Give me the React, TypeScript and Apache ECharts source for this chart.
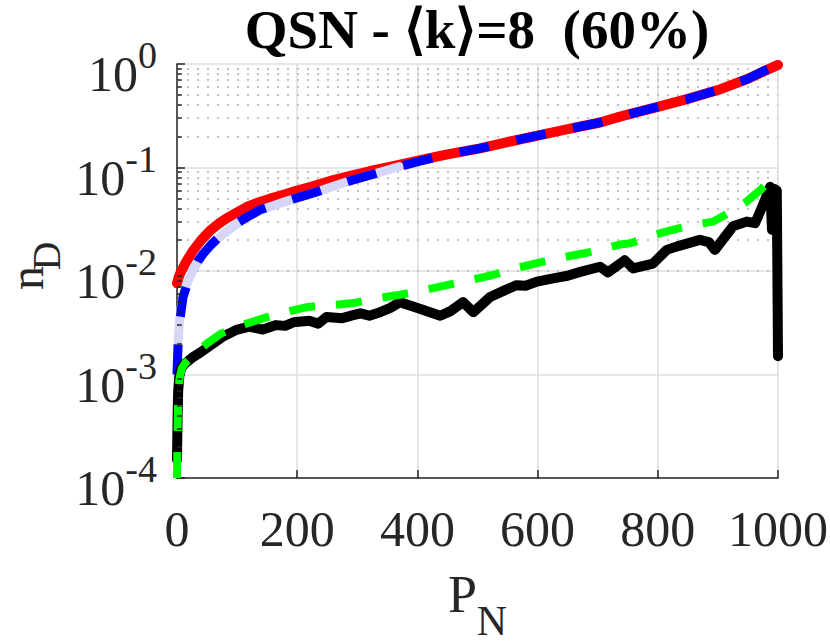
import React, { useEffect, useRef } from "react";
import * as echarts from "echarts";

const FONT = "'Liberation Serif', 'Times New Roman', Times, serif";
const TITLE = "QSN - \u27E8k\u27E9=8  (60%)";
const Y_NAME = ["n", "D"];

const xTicks = [0, 200, 400, 600, 800, 1000];
const yDecades = [-4, -3, -2, -1, 0];
const minorMultipliers = [2, 3, 4, 5, 6, 7, 8, 9];

const redData: [number, number][] = [
  [0, 0.0076], [3, 0.0088], [6, 0.0097], [10, 0.0107], [15, 0.0122], [20, 0.0136],
  [27, 0.0158], [40, 0.0198], [55, 0.0245], [70, 0.0288], [83, 0.0325], [100, 0.0368],
  [116, 0.0415], [135, 0.0458], [155, 0.05], [180, 0.055], [200, 0.0598], [230, 0.0668],
  [260, 0.0755], [290, 0.0835], [320, 0.092], [350, 0.1], [388, 0.112], [420, 0.123],
  [450, 0.134], [504, 0.153], [550, 0.176], [604, 0.206], [650, 0.235], [704, 0.272],
  [737, 0.31], [800, 0.386], [850, 0.46], [900, 0.56], [950, 0.72], [1000, 0.98],
];

const blueData: [number, number][] = [
  [0, 0.001], [1, 0.0015], [2, 0.002], [4, 0.003], [7, 0.0042], [10, 0.0056],
  [16, 0.0072], [25, 0.0095], [35, 0.0125], [44, 0.0148], [55, 0.0175], [69, 0.021],
  [85, 0.025], [100, 0.029], [120, 0.034], [138, 0.039], [160, 0.043], [180, 0.047],
  [205, 0.052], [232, 0.058], [260, 0.066], [290, 0.075], [332, 0.088], [370, 0.102],
  [404, 0.115], [450, 0.134], [504, 0.153], [550, 0.176], [604, 0.206], [650, 0.235],
  [704, 0.272], [737, 0.31], [800, 0.386], [850, 0.46], [900, 0.56], [950, 0.72], [1000, 1.0],
];

const lavenderData: [number, number][] = [
  [0, 0.001], [1, 0.0016], [2, 0.0022], [4, 0.0032], [7, 0.0045], [10, 0.0058],
  [16, 0.0074], [25, 0.0097], [35, 0.0123], [44, 0.0146], [55, 0.0172], [69, 0.0207],
  [85, 0.0247], [100, 0.0287], [120, 0.0337], [138, 0.0387], [160, 0.0428], [180, 0.0468],
  [205, 0.0518], [232, 0.0578], [260, 0.0658], [290, 0.0748], [332, 0.088], [370, 0.102],
];

const blackData: [number, number][] = [
  [0, 0.00015], [1, 0.0004], [2, 0.0007], [4, 0.00098], [7, 0.00115], [13, 0.00127],
  [25, 0.00145], [40, 0.00165], [55, 0.0019], [75, 0.0023], [99, 0.0027], [120, 0.0029],
  [143, 0.00272], [165, 0.003], [180, 0.00295], [194, 0.0032], [220, 0.0033], [235, 0.0031],
  [249, 0.0036], [275, 0.0035], [290, 0.0037], [305, 0.0039], [320, 0.0037], [338, 0.004],
  [355, 0.0044], [371, 0.005], [390, 0.0046], [410, 0.0042], [438, 0.0037], [455, 0.0041],
  [476, 0.005], [493, 0.004], [521, 0.0056], [545, 0.0065], [565, 0.0073], [580, 0.0072],
  [599, 0.0079], [626, 0.0085], [650, 0.009], [671, 0.0098], [704, 0.011], [717, 0.0097],
  [745, 0.0127], [759, 0.0106], [792, 0.0118], [815, 0.016], [831, 0.0172], [870, 0.02],
  [885, 0.019], [895, 0.016], [925, 0.027], [948, 0.03], [962, 0.029], [976, 0.045],
  [987, 0.065], [990, 0.025], [994, 0.062], [998, 0.06], [1000, 0.0015],
];

const greenData: [number, number][] = [
  [0, 0.0001], [1, 0.0003], [2, 0.0006], [4, 0.0009], [8, 0.00115], [14, 0.0013],
  [22, 0.00143], [33, 0.00165], [50, 0.002], [74, 0.0025], [100, 0.0029], [144, 0.0035],
  [180, 0.004], [218, 0.0045], [260, 0.0047], [293, 0.0049], [330, 0.0054], [371, 0.0059],
  [410, 0.0065], [449, 0.0073], [490, 0.0082], [524, 0.0091], [560, 0.0105], [601, 0.012],
  [640, 0.0135], [682, 0.015], [737, 0.018], [754, 0.0185], [790, 0.022], [823, 0.0248],
  [860, 0.028], [892, 0.03], [920, 0.037], [945, 0.0456], [970, 0.06], [987, 0.076], [1000, 0.08],
];

const minorValues: number[] = [];
yDecades.slice(0, -1).forEach((d) => {
  minorMultipliers.forEach((m) => minorValues.push(m * Math.pow(10, d)));
});

const TEXT = "#262626";

function buildOption() {
  return {
    animation: false,
    backgroundColor: "#ffffff",
    grid: {
      left: 177,
      right: 52,
      top: 64,
      bottom: 166,
      containLabel: false,
      outerBoundsMode: "none",
    },
    graphic: [
      {
        type: "text",
        x: 477,
        y: 29,
        style: {
          text: TITLE,
          fontSize: 55,
          fontWeight: "bold",
          fontFamily: FONT,
          fill: "#000000",
          align: "center",
          verticalAlign: "middle",
        },
      },
      {
        type: "text",
        x: 26,
        y: 278,
        rotation: Math.PI / 2,
        style: {
          text: Y_NAME[0],
          fontSize: 48,
          fontFamily: FONT,
          fill: TEXT,
          align: "center",
          verticalAlign: "middle",
        },
      },
      {
        type: "text",
        x: 46,
        y: 256,
        rotation: Math.PI / 2,
        style: {
          text: Y_NAME[1],
          fontSize: 40,
          fontFamily: FONT,
          fill: TEXT,
          align: "center",
          verticalAlign: "middle",
        },
      },
    ],
    xAxis: {
      type: "value",
      min: xTicks[0],
      max: xTicks[xTicks.length - 1],
      interval: xTicks[1] - xTicks[0],
      axisLine: { show: true, lineStyle: { color: TEXT, width: 1.5 } },
      axisTick: { show: true, inside: true, length: 8, lineStyle: { color: TEXT, width: 1.5 } },
      axisLabel: {
        margin: 26,
        fontSize: 50,
        fontFamily: FONT,
        color: TEXT,
        lineHeight: 50,
        formatter: (v: number) => String(v),
      },
      splitLine: { show: true, lineStyle: { color: "#dedede", width: 1.5 } },
      name: "{p|P}{n|N}",
      nameLocation: "middle",
      nameGap: 90,
      nameTextStyle: {
        fontFamily: FONT,
        color: TEXT,
        rich: {
          p: { fontSize: 52, fontFamily: FONT, color: TEXT, verticalAlign: "top", lineHeight: 74 },
          n: { fontSize: 42, fontFamily: FONT, color: TEXT, verticalAlign: "bottom", lineHeight: 74 },
        },
      },
    },
    yAxis: {
      type: "log",
      logBase: 10,
      min: Math.pow(10, yDecades[0]),
      max: Math.pow(10, yDecades[yDecades.length - 1]),
      axisLine: { show: true, lineStyle: { color: TEXT, width: 1.5 } },
      axisTick: { show: true, inside: true, length: 8, lineStyle: { color: TEXT, width: 1.5 } },
      axisLabel: {
        margin: 20,
        color: TEXT,
        fontFamily: FONT,
        formatter: (v: number) => {
          const e = Math.round(Math.log10(v));
          return "{b|10}{s|" + e + "}";
        },
        rich: {
          b: { fontSize: 50, fontFamily: FONT, color: TEXT, verticalAlign: "bottom", lineHeight: 50 },
          s: {
            fontSize: 38,
            fontFamily: FONT,
            color: TEXT,
            verticalAlign: "top",
            lineHeight: 70,
            padding: [7, 0, 0, 0],
          },
        },
      },
      splitLine: { show: true, lineStyle: { color: "#dedede", width: 1.5 } },
      minorTick: { show: false },
      minorSplitLine: { show: false },
    },
    series: [
      {
        name: "minor-grid",
        type: "line",
        data: [[0, 1]],
        symbol: "none",
        lineStyle: { opacity: 0 },
        silent: true,
        z: 1,
        markLine: {
          z: 1,
          silent: true,
          symbol: ["none", "none"],
          label: { show: false },
          animation: false,
          lineStyle: { color: "#c2c2c2", width: 2, type: [2, 8] },
          emphasis: { disabled: true },
          data: minorValues.map((v) => ({ yAxis: v })),
        },
      },
      {
        name: "minor-ticks",
        type: "line",
        data: [[0, 1]],
        symbol: "none",
        lineStyle: { opacity: 0 },
        silent: true,
        z: 6,
        markLine: {
          z: 6,
          silent: true,
          symbol: ["none", "none"],
          label: { show: false },
          animation: false,
          lineStyle: { color: TEXT, width: 1.5, type: "solid" },
          emphasis: { disabled: true },
          data: minorValues.map((v) => [{ coord: [0, v] }, { coord: [8, v] }]),
        },
      },
      {
        name: "red",
        type: "line",
        data: redData,
        symbol: "none",
        lineStyle: { color: "#ff0000", width: 10, cap: "round", join: "round" },
        z: 3,
      },
      {
        name: "lavender",
        type: "line",
        data: lavenderData,
        symbol: "none",
        lineStyle: { color: "#d6d7f7", width: 9, cap: "round", join: "round" },
        z: 3,
      },
      {
        name: "blue",
        type: "line",
        data: blueData,
        symbol: "none",
        lineStyle: { color: "#0000ff", width: 9, type: [30, 28], cap: "butt", join: "round" },
        z: 3,
      },
      {
        name: "black",
        type: "line",
        data: blackData,
        symbol: "none",
        lineStyle: { color: "#000000", width: 10, cap: "round", join: "round" },
        z: 3,
      },
      {
        name: "green",
        type: "line",
        data: greenData,
        symbol: "none",
        lineStyle: { color: "#00ff00", width: 8, type: [26, 21], cap: "butt", join: "round" },
        z: 3,
      },
    ],
  };
}

export default function App() {
  const ref = useRef<HTMLDivElement>(null);
  useEffect(() => {
    if (!ref.current) return;
    const chart = echarts.init(ref.current, null, { renderer: "svg" });
    chart.setOption(buildOption() as any);
    return () => chart.dispose();
  }, []);
  return (
    <div
      ref={ref}
      style={{ position: "fixed", left: 0, top: 0, width: 830, height: 644, background: "#fff" }}
    />
  );
}
